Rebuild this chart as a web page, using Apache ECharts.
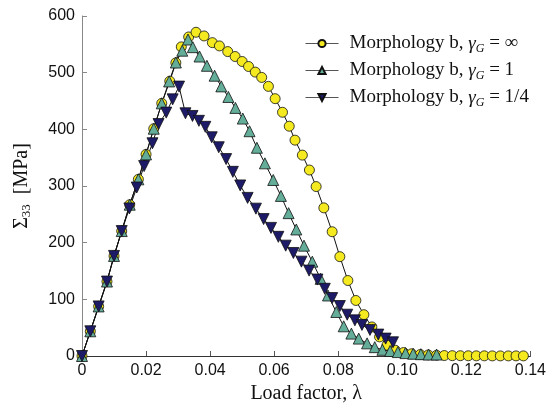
<!DOCTYPE html>
<html>
<head>
<meta charset="utf-8">
<script src="https://cdn.jsdelivr.net/npm/echarts@6/dist/echarts.min.js"></script>
<style>
  html, body { margin: 0; padding: 0; background: #fff; }
  #chart { width: 549px; height: 409px; }
</style>
</head>
<body>
<div id="chart"></div>
<script>
// Macroscopic stress vs load factor for morphology b, three gamma_G values
const seriesNames = ['Morphology b, γG = ∞', 'Morphology b, γG = 1', 'Morphology b, γG = 1/4'];
const gammaLabels = ['∞', '1', '1/4'];

const lambdaInf = [0, 0.0026, 0.0052, 0.0078, 0.0100, 0.0124, 0.0149, 0.0176, 0.0200, 0.0224, 0.0249,
  0.0274, 0.0293, 0.0310, 0.0333, 0.0356, 0.0381, 0.0407, 0.0429, 0.0455, 0.0478, 0.0500, 0.0520,
  0.0541, 0.0561, 0.0582, 0.0603, 0.0626, 0.0647, 0.0665, 0.0688, 0.0710, 0.0731, 0.0755, 0.0781,
  0.0805, 0.0830, 0.0855, 0.0880, 0.0905, 0.0929, 0.0952, 0.0978, 0.1004, 0.1029, 0.1056, 0.1081,
  0.1107, 0.1131, 0.1156, 0.1181, 0.1206, 0.1231, 0.1256, 0.1281, 0.1306, 0.1331, 0.1355, 0.1378];
const sigmaInf = [0, 43.6, 87.5, 131.4, 176.6, 220.5, 267, 311.8, 355.8, 401.1, 445.9,
  485, 517.4, 545.5, 563, 571.3, 564.8, 553, 547.2, 537.2, 528.5, 519.7, 510.9,
  501, 491.6, 475.8, 454.1, 430.1, 405.5, 380.9, 354.5, 328.2, 299, 261.4, 219.3,
  175.3, 133.2, 98, 72.9, 51.3, 33.7, 19, 10.2, 6.1, 3.9, 2.6, 1.8,
  1.2, 0.8, 0.6, 0.5, 0.4, 0.3, 0.3, 0.2, 0.2, 0.2, 0.2, 0.2];

const lambdaOne = [0, 0.0026, 0.0052, 0.0078, 0.0100, 0.0124, 0.0149, 0.0176, 0.0200, 0.0224, 0.0249,
  0.0272, 0.0293, 0.0313, 0.0331, 0.0346, 0.0367, 0.0390, 0.0414, 0.0435, 0.0457, 0.0479, 0.0502,
  0.0523, 0.0546, 0.0571, 0.0597, 0.0621, 0.0645, 0.0669, 0.0693, 0.0719, 0.0745, 0.0768, 0.0794,
  0.0817, 0.0841, 0.0864, 0.0890, 0.0914, 0.0938, 0.0962, 0.0986, 0.1010, 0.1034, 0.1058, 0.1082, 0.1107];
const sigmaOne = [0, 43.6, 87.5, 131.4, 176.6, 220.5, 267, 311.8, 355.8, 401.1, 445.9,
  484.5, 517.9, 538.8, 558.5, 545, 528.5, 512.1, 494.6, 475.8, 457.1, 437.8, 419,
  396.7, 367.5, 340, 310.6, 282.5, 252.1, 223.3, 194.7, 166.5, 136.2, 106.8, 77.7,
  52.4, 39.5, 30.7, 22.3, 15.6, 10.9, 8.8, 6.9, 5.1, 4.0, 3.2, 2.6, 2.6];

const lambdaQuarter = [0, 0.0026, 0.0052, 0.0078, 0.0100, 0.0124, 0.0148, 0.0171, 0.0194, 0.0220,
  0.0239, 0.0263, 0.0283, 0.0303, 0.0323, 0.0345, 0.0365, 0.0385, 0.0405, 0.0427, 0.0450, 0.0471,
  0.0494, 0.0517, 0.0543, 0.0567, 0.0590, 0.0613, 0.0636, 0.0660, 0.0685, 0.0709, 0.0735, 0.0758,
  0.0781, 0.0805, 0.0828, 0.0852, 0.0874, 0.0899, 0.0925, 0.0948, 0.0971];
const sigmaQuarter = [0, 43.6, 87.5, 131.4, 176.6, 220.5, 260.4, 297.3, 335.2, 375.4,
  409.3, 429.5, 452.9, 475.4, 428.3, 423.6, 415, 404.4, 386, 368.4, 347.5, 325,
  301, 279, 260, 241.6, 226.1, 210.3, 194.7, 181.8, 166.5, 150.7, 134.9, 118.6,
  102.2, 88.2, 72.9, 62.9, 54.8, 46, 37.8, 30.7, 24.2];

const xTicks = [0, 0.02, 0.04, 0.06, 0.08, 0.10, 0.12, 0.14];
const yTicks = [0, 100, 200, 300, 400, 500, 600];

const pairs = (xs, ys) => xs.map((x, i) => [x, ys[i]]);

const serif = '"Liberation Serif", "DejaVu Serif", serif';
const sans = '"Liberation Sans", Arial, sans-serif';

const chart = echarts.init(document.getElementById('chart'), null, { renderer: 'canvas' });

function lineSeries(name, data, symbol, color, size, rotate) {
  return {
    name: name,
    type: 'line',
    data: data,
    symbol: symbol,
    symbolSize: size,
    symbolRotate: rotate || 0,
    showAllSymbol: true,
    animation: false,
    lineStyle: { color: '#111', width: 1 },
    itemStyle: { color: color, borderColor: '#111', borderWidth: 0.8 },
    emphasis: { disabled: true },
    z: 2
  };
}

chart.setOption({
  backgroundColor: '#ffffff',
  animation: false,
  grid: { left: 82, right: 16, top: 16, bottom: 51.5 },
  legend: {
    orient: 'vertical',
    left: 300,
    top: 27,
    itemWidth: 33,
    itemHeight: 9,
    itemGap: 4,
    data: seriesNames,
    lineStyle: { width: 1, color: '#555' },
    formatter: function (name) {
      const i = seriesNames.indexOf(name);
      return '{t|Morphology b, }{g|γ}{s|G}{t| = ' + gammaLabels[i] + '}';
    },
    textStyle: {
      padding: [0, 0, 0, 6],
      rich: {
        t: { fontFamily: serif, fontSize: 19, color: '#111', lineHeight: 22 },
        g: { fontFamily: serif, fontSize: 19, fontStyle: 'italic', color: '#111', lineHeight: 22 },
        s: { fontFamily: serif, fontSize: 12, fontStyle: 'italic', color: '#111', lineHeight: 22, padding: [11, 0, 0, 0] }
      }
    }
  },
  xAxis: {
    type: 'value',
    min: xTicks[0],
    max: xTicks[xTicks.length - 1],
    interval: 0.02,
    name: 'Load factor, λ',
    nameLocation: 'middle',
    nameGap: 28,
    nameTextStyle: { fontFamily: serif, fontSize: 20, color: '#111' },
    axisLine: { lineStyle: { color: '#333', width: 1 } },
    axisTick: { inside: true, length: 5, lineStyle: { color: '#555' } },
    axisLabel: {
      fontFamily: sans, fontSize: 16, color: '#111', margin: 7,
      formatter: v => (v === 0 ? '0' : v.toFixed(2))
    },
    splitLine: { show: false }
  },
  yAxis: {
    type: 'value',
    min: yTicks[0],
    max: yTicks[yTicks.length - 1],
    interval: 100,
    name: '{b|Σ}{sub|33}{b|  [MPa]}',
    nameLocation: 'middle',
    nameGap: 48,
    nameRotate: 90,
    nameTextStyle: {
      rich: {
        b: { fontFamily: serif, fontSize: 20, color: '#111', lineHeight: 24 },
        sub: { fontFamily: serif, fontSize: 13, color: '#111', lineHeight: 24, padding: [10, 0, 0, 0] }
      }
    },
    axisLine: { show: true, lineStyle: { color: '#888', width: 1 } },
    axisTick: { show: true, inside: true, length: 5, lineStyle: { color: '#888' } },
    axisLabel: { fontFamily: sans, fontSize: 16, color: '#111', margin: 7 },
    splitLine: { show: false }
  },
  series: [
    lineSeries(seriesNames[0], pairs(lambdaInf, sigmaInf), 'circle', '#f4ea1f', 10),
    lineSeries(seriesNames[1], pairs(lambdaOne, sigmaOne), 'triangle', '#63ad99', 11),
    lineSeries(seriesNames[2], pairs(lambdaQuarter, sigmaQuarter), 'triangle', '#1d1a68', 11, 180)
  ]
});
</script>
</body>
</html>
